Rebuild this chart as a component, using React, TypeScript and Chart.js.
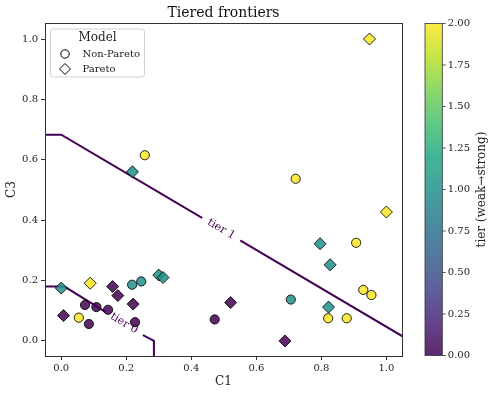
import React, { useEffect, useRef } from "react";
import { Chart, registerables } from "chart.js";
Chart.register(...registerables);

// ---------- data ----------
const tier0CircleC1 = [0.073, 0.108, 0.144, 0.085, 0.227, 0.472];
const tier0CircleC3 = [0.119, 0.112, 0.103, 0.056, 0.062, 0.071];
const tier0DiamondC1 = [0.007, 0.158, 0.174, 0.221, 0.521, 0.688];
const tier0DiamondC3 = [0.084, 0.18, 0.15, 0.122, 0.127, 0.0];
const tier1CircleC1 = [0.218, 0.246, 0.706];
const tier1CircleC3 = [0.186, 0.197, 0.137];
const tier1DiamondC1 = [0.0, 0.219, 0.3, 0.313, 0.796, 0.827, 0.822];
const tier1DiamondC3 = [0.175, 0.56, 0.218, 0.21, 0.322, 0.252, 0.112];
const tier2CircleC1 = [0.257, 0.721, 0.907, 0.929, 0.954, 0.821, 0.878, 0.054];
const tier2CircleC3 = [0.615, 0.537, 0.325, 0.169, 0.152, 0.075, 0.075, 0.077];
const tier2DiamondC1 = [0.948, 1.0, 0.089];
const tier2DiamondC3 = [1.0, 0.427, 0.191];

const frontier0C1 = [-0.05, 0.01, 0.25, 0.285, 0.285];
const frontier0C3 = [0.18, 0.18, 0.02, 0.0, -0.05];
const frontier1C1 = [-0.05, 0.0, 1.05];
const frontier1C3 = [0.683, 0.683, 0.015];
const frontierLabels = ["tier 0", "tier 1"];
const frontierLabelC1 = [0.193, 0.492];

const xTicks = [0.0, 0.2, 0.4, 0.6, 0.8, 1.0];
const yTicks = [0.0, 0.2, 0.4, 0.6, 0.8, 1.0];
const cbTicks = [0, 0.25, 0.5, 0.75, 1.0, 1.25, 1.5, 1.75, 2.0];
const cbMin = 0;
const cbMax = 2;

const legendTitle = "Model";
const legendNames = ["Non-Pareto", "Pareto"];

// ---------- styling ----------
const FONT = "'DejaVu Serif', serif";
const ALPHA = 0.85;
const VIRIDIS = [
  "#440154", "#482475", "#414487", "#355f8d", "#2a788e",
  "#21918c", "#22a884", "#44bf70", "#7ad151", "#bddf26", "#fde725",
];
function hexToRgb(h: string) {
  const n = parseInt(h.slice(1), 16);
  return [(n >> 16) & 255, (n >> 8) & 255, n & 255];
}
function viridis(t: number) {
  const c = Math.max(0, Math.min(1, t)) * (VIRIDIS.length - 1);
  const i = Math.min(Math.floor(c), VIRIDIS.length - 2);
  const f = c - i;
  const a = hexToRgb(VIRIDIS[i]);
  const b = hexToRgb(VIRIDIS[i + 1]);
  return a.map((v, k) => Math.round(v + (b[k] - v) * f));
}
function tierColor(tier: number) {
  const [r, g, b] = viridis((tier - cbMin) / (cbMax - cbMin));
  return `rgba(${r},${g},${b},${ALPHA})`;
}

const zip = (xs: number[], ys: number[]) => xs.map((x, i) => ({ x, y: ys[i] }));

function pointSet(label: string, xs: number[], ys: number[], tier: number, diamond: boolean) {
  return {
    label,
    data: zip(xs, ys),
    backgroundColor: tierColor(tier),
    borderColor: "rgba(0,0,0,0.85)",
    borderWidth: 1,
    pointStyle: diamond ? "rectRot" : "circle",
    pointRadius: diamond ? 6 : 4.6,
    order: 1,
  };
}

function lineSet(label: string, xs: number[], ys: number[], name: string, labelX: number) {
  return {
    label,
    data: zip(xs, ys),
    showLine: true,
    borderColor: "#440154",
    borderWidth: 2,
    pointRadius: 0,
    tension: 0,
    order: 5,
    frontierName: name,
    frontierLabelX: labelX,
  };
}

const decorPlugin = {
  id: "decor",
  afterDatasetDraw(chart: any, args: any) {
    const ds = chart.data.datasets[args.index];
    if (!ds.frontierName) return;
    const xs = chart.scales.x;
    const ys = chart.scales.y;
    const pts = ds.data;
    const lx = ds.frontierLabelX;
    let seg = 0;
    for (let i = 0; i < pts.length - 1; i++) {
      if (lx >= pts[i].x && lx <= pts[i + 1].x && pts[i + 1].x > pts[i].x) { seg = i; break; }
    }
    const p0 = pts[seg], p1 = pts[seg + 1];
    const ly = p0.y + ((lx - p0.x) / (p1.x - p0.x)) * (p1.y - p0.y);
    const px = xs.getPixelForValue(lx);
    const py = ys.getPixelForValue(ly);
    const ang = Math.atan2(
      ys.getPixelForValue(p1.y) - ys.getPixelForValue(p0.y),
      xs.getPixelForValue(p1.x) - xs.getPixelForValue(p0.x)
    );
    const ctx = chart.ctx;
    ctx.save();
    ctx.translate(px, py);
    ctx.rotate(ang);
    ctx.font = `11px ${FONT}`;
    const w = ctx.measureText(ds.frontierName).width;
    ctx.fillStyle = "#ffffff";
    ctx.fillRect(-w / 2 - 7, -4, w + 14, 8);
    ctx.fillStyle = "#440154";
    ctx.textAlign = "center";
    ctx.textBaseline = "middle";
    ctx.fillText(ds.frontierName, 0, 0);
    ctx.restore();
  },
  afterDraw(chart: any) {
    const ctx = chart.ctx;
    const a = chart.chartArea;
    ctx.save();
    // axes frame
    ctx.strokeStyle = "#333";
    ctx.lineWidth = 1;
    ctx.strokeRect(Math.round(a.left) + 0.5, Math.round(a.top) + 0.5, Math.round(a.right - a.left), Math.round(a.bottom - a.top));

    // title
    ctx.fillStyle = "#111";
    ctx.textAlign = "center";
    ctx.textBaseline = "middle";
    ctx.font = `14px ${FONT}`;
    ctx.fillText("Tiered frontiers", (a.left + a.right) / 2, 13);

    // axis titles
    ctx.font = `12px ${FONT}`;
    ctx.fillStyle = "#222";
    ctx.fillText("C1", (a.left + a.right) / 2, 382);
    ctx.save();
    ctx.translate(12, (a.top + a.bottom) / 2);
    ctx.rotate(-Math.PI / 2);
    ctx.fillText("C3", 0, 0);
    ctx.restore();

    // legend
    const lx0 = 50.5, ly0 = 29, lw = 94, lh = 48;
    ctx.beginPath();
    ctx.roundRect(lx0, ly0, lw, lh, 3);
    ctx.fillStyle = "rgba(255,255,255,0.8)";
    ctx.fill();
    ctx.strokeStyle = "#d0d0d0";
    ctx.lineWidth = 1;
    ctx.stroke();
    ctx.fillStyle = "#222";
    ctx.font = `12px ${FONT}`;
    ctx.textAlign = "center";
    ctx.fillText(legendTitle, lx0 + lw / 2, 37.5);
    ctx.font = `10px ${FONT}`;
    ctx.textAlign = "left";
    ctx.fillText(legendNames[0], 82.5, 54);
    ctx.fillText(legendNames[1], 82.5, 69);
    ctx.strokeStyle = "#000";
    ctx.fillStyle = "#fff";
    ctx.lineWidth = 1;
    ctx.beginPath();
    ctx.arc(65, 54, 4.2, 0, Math.PI * 2);
    ctx.fill();
    ctx.stroke();
    ctx.beginPath();
    ctx.moveTo(65 - 5.5, 69);
    ctx.lineTo(65, 69 - 5.5);
    ctx.lineTo(65 + 5.5, 69);
    ctx.lineTo(65, 69 + 5.5);
    ctx.closePath();
    ctx.fill();
    ctx.stroke();

    // colorbar
    const cx0 = 425, cx1 = 442.3, cy0 = a.top + 0.5, cy1 = a.bottom - 0.5;
    const grad = ctx.createLinearGradient(0, cy1, 0, cy0);
    for (let i = 0; i <= 20; i++) {
      const [r, g, b] = viridis(i / 20);
      grad.addColorStop(i / 20, `rgb(${r},${g},${b})`);
    }
    ctx.fillStyle = "#fff";
    ctx.fillRect(cx0, cy0, cx1 - cx0, cy1 - cy0);
    ctx.globalAlpha = ALPHA;
    ctx.fillStyle = grad;
    ctx.fillRect(cx0, cy0, cx1 - cx0, cy1 - cy0);
    ctx.globalAlpha = 1;
    ctx.strokeStyle = "#333";
    ctx.lineWidth = 0.8;
    ctx.strokeRect(cx0, cy0, cx1 - cx0, cy1 - cy0);
    ctx.font = `10px ${FONT}`;
    ctx.fillStyle = "#222";
    ctx.textAlign = "left";
    ctx.textBaseline = "middle";
    for (const v of cbTicks) {
      const y = cy1 - ((v - cbMin) / (cbMax - cbMin)) * (cy1 - cy0);
      ctx.beginPath();
      ctx.moveTo(cx1, y);
      ctx.lineTo(cx1 + 3.5, y);
      ctx.stroke();
      ctx.fillText(v.toFixed(2), cx1 + 5.5, y);
    }
    ctx.save();
    ctx.translate(481.5, (cy0 + cy1) / 2);
    ctx.rotate(-Math.PI / 2);
    ctx.textAlign = "center";
    ctx.font = `12px ${FONT}`;
    ctx.fillText("tier (weak\u2192strong)", 0, 0);
    ctx.restore();
    ctx.restore();
  },
};

export default function App() {
  const ref = useRef<HTMLCanvasElement>(null);
  useEffect(() => {
    if (!ref.current) return;
    const chart = new Chart(ref.current, {
      type: "scatter",
      data: {
        datasets: [
          lineSet("frontier tier 0", frontier0C1, frontier0C3, frontierLabels[0], frontierLabelC1[0]),
          lineSet("frontier tier 1", frontier1C1, frontier1C3, frontierLabels[1], frontierLabelC1[1]),
          pointSet("tier 0 Non-Pareto", tier0CircleC1, tier0CircleC3, 0, false),
          pointSet("tier 1 Non-Pareto", tier1CircleC1, tier1CircleC3, 1, false),
          pointSet("tier 2 Non-Pareto", tier2CircleC1, tier2CircleC3, 2, false),
          pointSet("tier 0 Pareto", tier0DiamondC1, tier0DiamondC3, 0, true),
          pointSet("tier 1 Pareto", tier1DiamondC1, tier1DiamondC3, 1, true),
          pointSet("tier 2 Pareto", tier2DiamondC1, tier2DiamondC3, 2, true),
        ] as any,
      },
      options: {
        responsive: false,
        animation: false,
        devicePixelRatio: 1,
        layout: { padding: { top: 23, right: 92, left: 0, bottom: 0 } },
        plugins: {
          legend: { display: false },
          title: { display: false },
          tooltip: { enabled: false },
        },
        scales: {
          x: {
            type: "linear",
            min: -0.05,
            max: 1.048,
            afterFit: (s: any) => { s.height = 40; },
            afterBuildTicks: (s: any) => { s.ticks = xTicks.map((v) => ({ value: v })); },
            grid: { drawOnChartArea: false, drawTicks: true, tickLength: 4, color: "#333", tickWidth: 1 },
            border: { display: false },
            ticks: {
              font: { family: FONT, size: 10 },
              color: "#222",
              padding: 2,
              maxRotation: 0,
              callback: (v: any) => Number(v).toFixed(1),
            },
          },
          y: {
            type: "linear",
            min: -0.05,
            max: 1.053,
            afterFit: (s: any) => { s.width = 45; },
            afterBuildTicks: (s: any) => { s.ticks = yTicks.map((v) => ({ value: v })); },
            grid: { drawOnChartArea: false, drawTicks: true, tickLength: 4, color: "#333", tickWidth: 1 },
            border: { display: false },
            ticks: {
              font: { family: FONT, size: 10 },
              color: "#222",
              padding: 3,
              callback: (v: any) => Number(v).toFixed(1),
            },
          },
        },
      },
      plugins: [decorPlugin],
    } as any);
    return () => chart.destroy();
  }, []);
  return (
    <div style={{ position: "fixed", left: 0, top: 0, width: 494, height: 396, background: "#fff" }}>
      <canvas ref={ref} width={494} height={396} style={{ width: 494, height: 396, display: "block" }} />
    </div>
  );
}
